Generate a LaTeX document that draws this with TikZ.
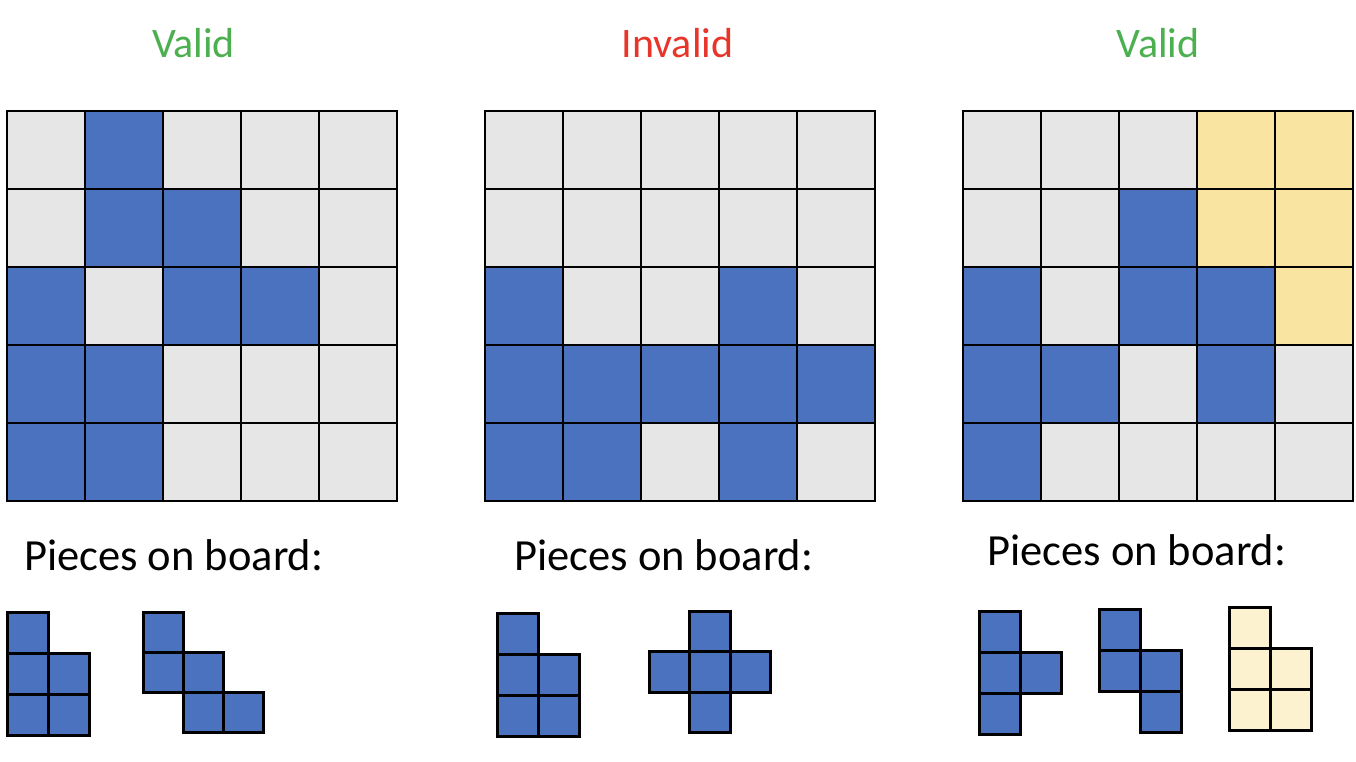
\documentclass[tikz,border=0pt]{standalone}
\usepackage{fontspec}
\setmainfont{Carlito}
\definecolor{cg}{HTML}{E6E6E6}
\definecolor{cb}{HTML}{4A72BE}
\definecolor{cy}{HTML}{F9E4A2}
\definecolor{cly}{HTML}{FCF2D0}
\definecolor{okgreen}{HTML}{4CAF50}
\definecolor{badred}{HTML}{E8352A}
\newcommand\drawboard[2]{%
  \foreach \row [count=\r from 0] in {#2} {
    \foreach \cc [count=\c from 0] in \row {
      \path[boardcell, fill=\cc] (#1+\c*78, 111+\r*78) rectangle ++(78,78);
    }
  }
}
\newcommand\drawpiece[5]{% x0, y0, size, color, cells col/row
  \foreach \pc/\pr in {#5} {
    \path[piececell, fill=#4] (#1+\pc*#3, #2+\pr*#3) rectangle ++(#3,#3);
  }
}
\tikzset{
  boardcell/.style={draw=black, line width=2pt},
  piececell/.style={draw=black, line width=3pt, line join=miter},
  title/.style={font=\fontsize{42}{50}\selectfont, inner sep=0pt, anchor=base},
  caption/.style={font=\fontsize{44.5}{52}\selectfont, inner sep=0pt, anchor=base west},
}
\begin{document}
\begin{tikzpicture}[x=1pt, y=-1pt]
\useasboundingbox[fill=white] (0,0) rectangle (1356,762);
% titles
\node[title, text=okgreen] (t1) at (193.5,58) {Valid};
\node[title, text=badred] (t2) at (677.5,58) {Invalid};
\node[title, text=okgreen] (t3) at (1158,58) {Valid};
% boards
\drawboard{7}{{cg,cb,cg,cg,cg},{cg,cb,cb,cg,cg},{cb,cg,cb,cb,cg},{cb,cb,cg,cg,cg},{cb,cb,cg,cg,cg}}
\drawboard{485}{{cg,cg,cg,cg,cg},{cg,cg,cg,cg,cg},{cb,cg,cg,cb,cg},{cb,cb,cb,cb,cb},{cb,cb,cg,cb,cg}}
\drawboard{963}{{cg,cg,cg,cy,cy},{cg,cg,cb,cy,cy},{cb,cg,cb,cb,cy},{cb,cb,cg,cb,cg},{cb,cg,cg,cg,cg}}
% captions
\node[caption] (c1) at (24,570) {Pieces on board:};
\node[caption] (c2) at (514,570) {Pieces on board:};
\node[caption] (c3) at (987,565) {Pieces on board:};
% pieces
\drawpiece{7}{612}{41}{cb}{0/0,0/1,1/1,0/2,1/2}
\drawpiece{143}{612}{40}{cb}{0/0,0/1,1/1,1/2,2/2}
\drawpiece{497}{613}{41}{cb}{0/0,0/1,1/1,0/2,1/2}
\drawpiece{649}{611}{40.5}{cb}{1/0,0/1,1/1,2/1,1/2}
\drawpiece{979}{611}{41}{cb}{0/0,0/1,1/1,0/2}
\drawpiece{1099}{609}{41}{cb}{0/0,0/1,1/1,1/2}
\drawpiece{1229}{607}{41}{cly}{0/0,0/1,1/1,0/2,1/2}
\end{tikzpicture}
\end{document}
